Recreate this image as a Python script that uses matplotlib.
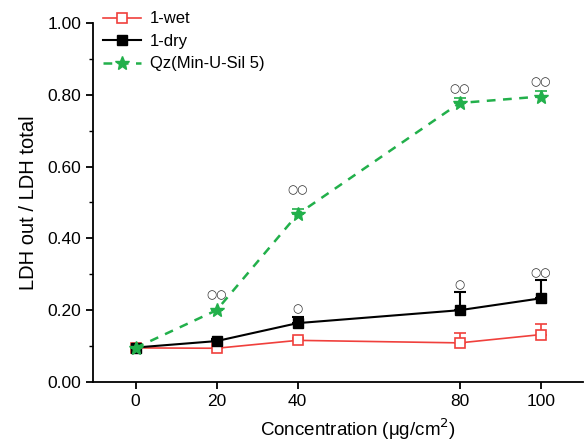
import matplotlib
matplotlib.use("Agg")
import matplotlib.pyplot as plt
from matplotlib.ticker import MultipleLocator, FormatStrFormatter
from matplotlib.lines import Line2D

plt.rcParams['font.family'] = ['Liberation Sans', 'DejaVu Sans']

conc = [0, 20, 40, 80, 100]
wet = [0.095, 0.094, 0.116, 0.109, 0.132]
wet_err = [0.0, 0.0, 0.006, 0.027, 0.030]
dry = [0.096, 0.114, 0.164, 0.200, 0.233]
dry_err = [0.0, 0.006, 0.018, 0.050, 0.050]
qz = [0.095, 0.200, 0.467, 0.777, 0.795]
qz_err = [0.0, 0.0, 0.016, 0.014, 0.014]

# significance marks: (x, y, label)
sig_x = [20, 40, 80, 100, 40, 80, 100]
sig_y = [0.243, 0.535, 0.818, 0.836, 0.203, 0.271, 0.305]
sig_lbl = ['\u25cb\u25cb', '\u25cb\u25cb', '\u25cb\u25cb', '\u25cb\u25cb', '\u25cb', '\u25cb', '\u25cb\u25cb']

fig = plt.figure(figsize=(5.85, 4.42), dpi=100)
ax = fig.add_axes([0.159, 0.1357, 0.838, 0.8125])

red = '#f0403c'
green = '#22b04b'
qz_ls = (0, (3.5, 3))

ax.errorbar(conc, wet, yerr=[[0]*5, wet_err], color=red, lw=1.2, marker='s', ms=7,
            mfc='white', mec=red, mew=1.2, capsize=4, capthick=1.2, zorder=3)
ax.errorbar(conc, dry, yerr=[[0]*5, dry_err], color='black', lw=1.5, marker='s', ms=7,
            mfc='black', mec='black', capsize=4, capthick=1.5, zorder=4)
ax.errorbar(conc, qz, yerr=[[0]*5, qz_err], color=green, lw=1.8, ls=qz_ls, marker='*', ms=10,
            mfc=green, mec=green, capsize=4, capthick=1.2, zorder=5)

for x, y, t in zip(sig_x, sig_y, sig_lbl):
    ax.text(x, y, t, ha='center', va='center', fontsize=8.5, color='#333333',
            family=['DejaVu Sans'], fontweight='bold')

ax.set_xlim(-10.5, 110.5)
ax.set_ylim(0, 1.0)
ax.set_xticks(conc)
ax.yaxis.set_major_locator(MultipleLocator(0.2))
ax.yaxis.set_minor_locator(MultipleLocator(0.1))
ax.yaxis.set_major_formatter(FormatStrFormatter('%.2f'))
ax.spines['top'].set_visible(False)
ax.spines['right'].set_visible(False)
ax.spines['left'].set_linewidth(1.3)
ax.spines['bottom'].set_linewidth(1.3)
ax.tick_params(axis='both', which='major', labelsize=12.5, width=1.3, length=5, direction='out')
ax.tick_params(axis='y', which='minor', width=1.0, length=3)

ax.set_xlabel('Concentration (\u03bcg/cm$^2$)', fontsize=13.5)
ax.xaxis.set_label_coords(0.54, -0.095)
ax.set_ylabel('LDH out / LDH total', fontsize=14.5, labelpad=7)

handles = [
    Line2D([], [], color=red, lw=1.2, marker='s', ms=7, mfc='white', mec=red, mew=1.2),
    Line2D([], [], color='black', lw=1.5, marker='s', ms=7, mfc='black', mec='black'),
    Line2D([], [], color=green, lw=1.8, ls=qz_ls, marker='*', ms=10, mfc=green, mec=green),
]
labels = ['1-wet', '1-dry', 'Qz(Min-U-Sil 5)']
ax.legend(handles, labels, loc='upper left', bbox_to_anchor=(0.0, 1.06), frameon=False,
          fontsize=12, handlelength=2.3, handletextpad=0.5, borderaxespad=0.2, labelspacing=0.45)

fig.savefig('out.png', dpi=100)
